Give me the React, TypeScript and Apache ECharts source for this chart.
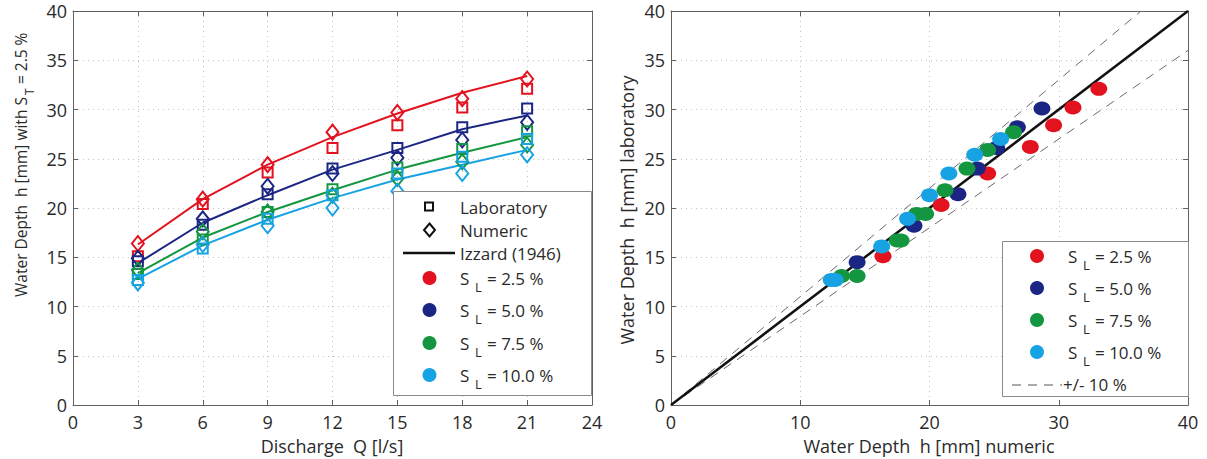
import React, { useEffect, useRef } from "react";
import * as echarts from "echarts";

// ---------- data ----------
const discharge = [3, 6, 9, 12, 15, 18, 21];
const slopeLabels = ["= 2.5 %", "= 5.0 %", "= 7.5 %", "= 10.0 %"];
const colors = ["#e3121f", "#1b2684", "#13963f", "#17a3e3"];

// Izzard (1946) curves
const izzard25 = [16.3, 20.9, 24.4, 27.2, 29.6, 31.7, 33.4];
const izzard50 = [14.4, 18.5, 21.3, 23.9, 25.9, 28.0, 29.4];
const izzard75 = [13.4, 17.0, 19.6, 21.8, 23.9, 25.6, 27.2];
const izzard100 = [12.8, 16.2, 18.8, 21.0, 22.9, 24.4, 25.9];
// Laboratory
const lab25 = [15.1, 20.4, 23.6, 26.1, 28.4, 30.2, 32.1];
const lab50 = [14.6, 18.3, 21.4, 24.0, 26.1, 28.2, 30.1];
const lab75 = [13.3, 16.8, 19.6, 21.9, 24.1, 26.0, 27.8];
const lab100 = [12.7, 15.9, 18.9, 21.3, 23.5, 25.2, 27.0];
// Numeric
const num25 = [16.4, 20.9, 24.4, 27.7, 29.7, 31.1, 33.1];
const num50 = [14.9, 18.9, 22.2, 23.5, 25.1, 26.9, 28.7];
const num75 = [13.7, 17.6, 19.6, 21.3, 23.0, 24.7, 26.4];
const num100 = [12.4, 16.3, 18.2, 20.0, 21.7, 23.5, 25.4];

// Right chart: [numeric, laboratory]
const cmp25 = [[16.4, 15.1], [20.9, 20.3], [24.5, 23.5], [27.8, 26.2], [29.6, 28.4], [31.1, 30.2], [33.1, 32.1]];
const cmp50 = [[14.4, 14.5], [18.8, 18.2], [22.2, 21.4], [23.7, 24.0], [25.2, 26.1], [26.8, 28.2], [28.7, 30.1]];
const cmp75 = [[13.2, 13.1], [14.4, 13.1], [17.5, 16.7], [17.8, 16.7], [19.0, 19.4], [19.7, 19.4], [21.2, 21.8], [22.9, 24.0], [24.5, 25.9], [26.5, 27.7]];
const cmp100 = [[12.4, 12.7], [12.7, 12.7], [16.3, 16.1], [18.3, 18.9], [20.0, 21.3], [21.5, 23.5], [23.5, 25.4], [25.5, 27.0]];

const identityLine = [[0, 0], [40, 40]];
const plus10Line = [[0, 0], [36.36, 40]];
const minus10Line = [[0, 0], [40, 36]];

const izzard = [izzard25, izzard50, izzard75, izzard100];
const lab = [lab25, lab50, lab75, lab100];
const num = [num25, num50, num75, num100];
const cmp = [cmp25, cmp50, cmp75, cmp100];

const FONT = '"Open Sans", sans-serif';
const TXT = "#2a2a2a";
const AX = "#606060";
const GRIDC = "#c4c4c4";

function measure(t: string, size: number) {
  const c = document.createElement("canvas").getContext("2d");
  if (!c) return t.length * size * 0.5;
  c.font = `${size}px "Open Sans"`;
  return c.measureText(t).width;
}

function txt(text: string, x: number, y: number, size: number, align = "left", extra: any = {}) {
  return {
    type: "text",
    x,
    y,
    z: 100,
    style: {
      text,
      fontSize: size,
      fontFamily: FONT,
      fill: TXT,
      align,
      textAlign: align,
      verticalAlign: "middle",
      textVerticalAlign: "middle",
      ...extra,
    },
  };
}

function subLabel(x: number, y: number, main: string, sub: string, rest: string, size = 17) {
  return [
    txt(main, x, y, size),
    txt(sub, x + 15, y + 9, 13),
    txt(rest, x + 27, y, size),
  ];
}

export default function App() {
  const ref = useRef<HTMLDivElement>(null);
  useEffect(() => {
    if (!ref.current) return;
    const chart = echarts.init(ref.current, undefined, { renderer: "svg" });

    const label = (margin: number) => ({ color: TXT, fontSize: 18, fontFamily: FONT, margin });
    const axisCommon = (min: number, max: number, interval: number) => ({
      type: "value",
      min,
      max,
      interval,
      axisLine: { show: true, onZero: false, lineStyle: { color: AX, width: 1 } },
      axisTick: { show: true, inside: true, length: 5, lineStyle: { color: AX } },
      axisLabel: label(7),
      splitLine: { show: true, lineStyle: { color: GRIDC, type: [1, 4], width: 1 } },
    });
    const mirror = (min: number, max: number, interval: number) => ({
      ...axisCommon(min, max, interval),
      axisLabel: { show: false },
      splitLine: { show: false },
    });

    const series: any[] = [];
    for (let i = 0; i < 4; i++) {
      series.push({
        type: "line",
        xAxisIndex: 0,
        yAxisIndex: 0,
        data: discharge.map((q, j) => [q, izzard[i][j]]),
        showSymbol: false,
        lineStyle: { color: colors[i], width: 2 },
        z: 2,
      });
      series.push({
        type: "scatter",
        xAxisIndex: 0,
        yAxisIndex: 0,
        data: discharge.map((q, j) => [q, lab[i][j]]),
        symbol: "rect",
        symbolSize: 10,
        itemStyle: { color: "transparent", borderColor: colors[i], borderWidth: 2, opacity: 1 },
        z: 3,
      });
      series.push({
        type: "scatter",
        xAxisIndex: 0,
        yAxisIndex: 0,
        data: discharge.map((q, j) => [q, num[i][j]]),
        symbol: "diamond",
        symbolSize: [12, 15],
        itemStyle: { color: "transparent", borderColor: colors[i], borderWidth: 2, opacity: 1 },
        z: 3,
      });
    }
    series.push({
      type: "line",
      xAxisIndex: 2,
      yAxisIndex: 2,
      data: plus10Line,
      showSymbol: false,
      lineStyle: { color: "#6a6a6a", width: 1, type: [9, 7] },
      z: 2,
    });
    series.push({
      type: "line",
      xAxisIndex: 2,
      yAxisIndex: 2,
      data: minus10Line,
      showSymbol: false,
      lineStyle: { color: "#6a6a6a", width: 1, type: [9, 7] },
      z: 2,
    });
    series.push({
      type: "line",
      xAxisIndex: 2,
      yAxisIndex: 2,
      data: identityLine,
      showSymbol: false,
      lineStyle: { color: "#111", width: 2.5 },
      z: 3,
    });
    for (let i = 0; i < 4; i++) {
      series.push({
        type: "scatter",
        xAxisIndex: 2,
        yAxisIndex: 2,
        data: cmp[i],
        symbol: "circle",
        symbolSize: [17, 14],
        itemStyle: { color: colors[i], opacity: 1 },
        z: 4,
      });
    }

    // legends
    const g: any[] = [];
    // left legend
    g.push({
      type: "rect",
      shape: { x: 393.5, y: 191.5, width: 198, height: 204 },
      style: { fill: "#fff", stroke: "#8a8a8a", lineWidth: 1 },
      z: 90,
    });
    g.push({
      type: "rect",
      shape: { x: 425, y: 202.5, width: 8, height: 8 },
      style: { fill: "none", stroke: "#111", lineWidth: 2 },
      z: 100,
    });
    g.push(txt("Laboratory", 460, 207, 17));
    g.push({
      type: "polygon",
      shape: { points: [[429.5, 223.5], [435, 230], [429.5, 236.5], [424, 230]] },
      style: { fill: "none", stroke: "#111", lineWidth: 2 },
      z: 100,
    });
    g.push(txt("Numeric", 460, 230, 17));
    g.push({
      type: "line",
      shape: { x1: 403, y1: 253, x2: 455, y2: 253 },
      style: { stroke: "#111", lineWidth: 2.5 },
      z: 100,
    });
    g.push(txt("Izzard (1946)", 460, 253, 17));
    const lyLeft = [278, 310, 343, 375];
    for (let i = 0; i < 4; i++) {
      g.push({
        type: "circle",
        shape: { cx: 429.5, cy: lyLeft[i], r: 7 },
        style: { fill: colors[i] },
        z: 100,
      });
      g.push(...subLabel(460, lyLeft[i], "S", "L", slopeLabels[i]));
    }
    // right legend
    g.push({
      type: "rect",
      shape: { x: 1002.5, y: 241.5, width: 186, height: 155 },
      style: { fill: "#fff", stroke: "#8a8a8a", lineWidth: 1 },
      z: 90,
    });
    const lyRight = [256, 288, 320, 352];
    for (let i = 0; i < 4; i++) {
      g.push({
        type: "circle",
        shape: { cx: 1037, cy: lyRight[i], r: 7 },
        style: { fill: colors[i] },
        z: 100,
      });
      g.push(...subLabel(1068, lyRight[i], "S", "L", slopeLabels[i]));
    }
    g.push({
      type: "line",
      shape: { x1: 1012, y1: 385, x2: 1062, y2: 385 },
      style: { stroke: "#555", lineWidth: 1, lineDash: [9, 7] },
      z: 100,
    });
    g.push(txt("+/- 10 %", 1063, 384, 17));

    // axis titles
    g.push(txt("Discharge  Q [l/s]", 332, 446, 18, "center"));
    g.push(txt("Water Depth  h [mm] numeric", 929, 446, 18, "center"));
    g.push({
      ...txt("Water Depth  h [mm] laboratory", 627, 210, 18, "center"),
      rotation: Math.PI / 2,
    });
    const t1 = "Water Depth  h [mm] with S";
    const w1 = measure(t1, 15.5);
    g.push({
      type: "group",
      x: 21,
      y: 297,
      rotation: Math.PI / 2,
      children: [
        txt(t1, 0, 0, 15.5),
        txt("T", w1 + 2, 8, 12),
        txt("= 2.5 %", w1 + 13, 0, 15.5),
      ],
    });

    chart.setOption({
      animation: false,
      backgroundColor: "#fff",
      grid: [
        { left: 73, top: 11, width: 519, height: 394, show: false },
        { left: 671, top: 11, width: 517, height: 394, show: false },
      ],
      xAxis: [
        { ...axisCommon(0, 24, 3), gridIndex: 0, position: "bottom", axisLabel: label(8) },
        { ...mirror(0, 24, 3), gridIndex: 0, position: "top" },
        { ...axisCommon(0, 40, 10), gridIndex: 1, position: "bottom", axisLabel: label(8) },
        { ...mirror(0, 40, 10), gridIndex: 1, position: "top" },
      ],
      yAxis: [
        { ...axisCommon(0, 40, 5), gridIndex: 0, position: "left", axisLabel: label(6) },
        { ...mirror(0, 40, 5), gridIndex: 0, position: "right" },
        { ...axisCommon(0, 40, 5), gridIndex: 1, position: "left", axisLabel: label(6) },
        { ...mirror(0, 40, 5), gridIndex: 1, position: "right" },
      ],
      series,
      graphic: { elements: g },
    });
    return () => chart.dispose();
  }, []);
  return <div ref={ref} style={{ width: 1207, height: 459, position: "absolute", left: 0, top: 0 }} />;
}
